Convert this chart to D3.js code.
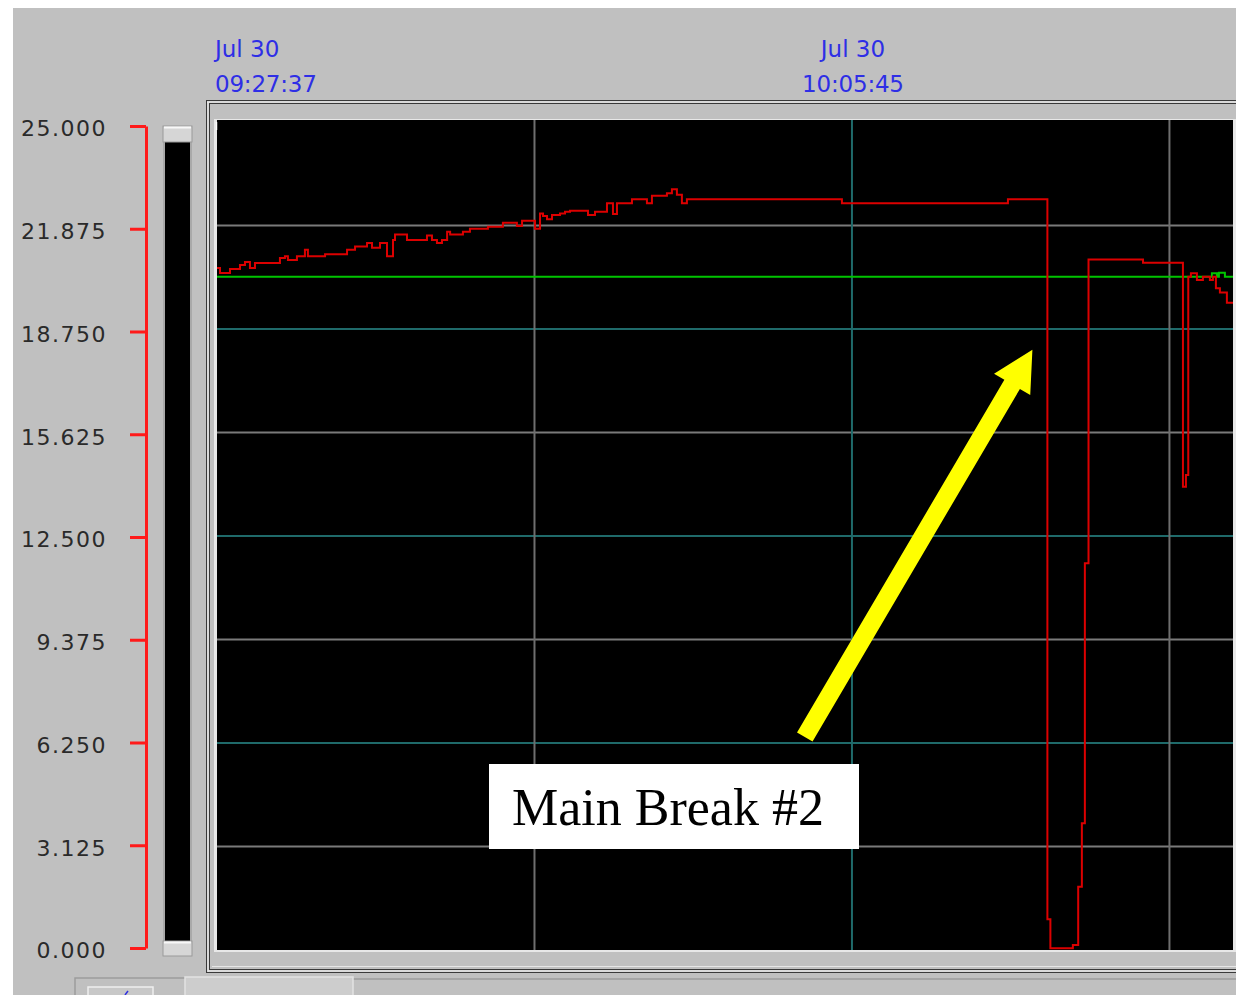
<!DOCTYPE html>
<html><head><meta charset="utf-8">
<script src="https://cdn.jsdelivr.net/npm/d3@7"></script>
<style>html,body{margin:0;padding:0;background:#fff;overflow:hidden}</style>
</head><body>
<svg id="c" width="1236" height="995"></svg>
<script>
// ---------------- data ----------------
const startTime = "09:27:37";
const endTime = "10:28:38";
const yTicks = [0, 3.125, 6.25, 9.375, 12.5, 15.625, 18.75, 21.875, 25];
const dateLabels = ["Jul 30", "Jul 30"];
const timeLabels = ["09:27:37", "10:05:45"];
const minorGridTimes = ["09:46:41", "10:24:49"];
const majorGridTimes = ["10:05:45"];
const minorGridValues = [3.125, 9.375, 15.625, 21.875];
const majorGridValues = [6.25, 12.5, 18.75];

// red trace: minutes after 09:27:37, value (step-after)
const redMinutes = [0, 0.18, 0.78, 1.38, 1.68, 1.98, 2.28, 3.78, 4.08, 4.26, 4.80, 5.28, 5.46, 6.49,
  7.81, 8.29, 9.01, 9.31, 9.79, 10.21, 10.57, 10.69, 11.41, 12.61, 12.91, 13.21, 13.51, 13.82,
  14.00, 14.77, 15.19, 16.27, 17.17, 18.01, 18.32, 19.10, 19.40, 19.58, 19.82, 20.12, 20.60,
  20.90, 21.20, 22.28, 22.70, 23.42, 23.78, 24.02, 24.92, 25.82, 26.12, 27.02, 27.32, 27.62,
  27.92, 28.22, 37.53, 47.50, 49.87, 50.05, 51.40, 51.72, 51.94, 52.12, 52.34, 55.61, 58.01,
  58.19, 58.33, 58.49, 58.85, 59.21, 59.63, 59.81, 59.99, 60.23, 60.65, 61.02];
const redValues = [20.59, 20.44, 20.56, 20.68, 20.77, 20.59, 20.74, 20.89, 20.95, 20.83, 20.95, 21.14, 20.95, 21.01,
  21.14, 21.24, 21.35, 21.20, 21.35, 20.95, 21.44, 21.60, 21.44, 21.57, 21.44, 21.35, 21.44, 21.69,
  21.60, 21.69, 21.78, 21.84, 21.96, 21.86, 22.02, 21.78, 22.24, 22.16, 22.06, 22.19, 22.24,
  22.29, 22.32, 22.19, 22.29, 22.55, 22.22, 22.55, 22.67, 22.55, 22.77, 22.85, 22.97, 22.80,
  22.55, 22.67, 22.55, 22.67, 0.93, 0.05, 0.15, 1.91, 3.83, 11.68, 20.85, 20.75, 13.99,
  14.34, 20.33, 20.43, 20.23, 20.33, 20.23, 20.33, 19.98, 19.85, 19.54, 19.54];

// green trace
const greenMinutes = [0, 59.75, 60.05, 60.17, 60.53, 61.02];
const greenValues = [20.33, 20.43, 20.33, 20.45, 20.33, 20.33];

const annotationText = "Main Break #2";
// arrow: tail / tip in (minutes, value)
const arrowTail = [35.3, 6.43];
const arrowTip = [48.97, 18.12];

// ---------------- drawing ----------------
const svg = d3.select("#c");
const parse = d3.timeParse("%H:%M:%S");
const t0 = parse(startTime), t1 = parse(endTime);
const tAt = m => new Date(t0.getTime() + m * 60000);

const plot = {l: 217, r: 1233, t: 122, b: 950};
const x = d3.scaleTime().domain([t0, t1]).range([plot.l, plot.r]);
const y = d3.scaleLinear().domain([0, 25]).range([plot.b, plot.t]);
const yAx = d3.scaleLinear().domain([0, 25]).range([948, 126]);

// background
svg.append("rect").attr("x", 0).attr("y", 0).attr("width", 1236).attr("height", 995).attr("fill", "#ffffff");
svg.append("rect").attr("x", 13).attr("y", 8).attr("width", 1223).attr("height", 987).attr("fill", "#c0c0c0");

// frame
function hline(x1, x2, yy, c, w) { svg.append("line").attr("x1", x1).attr("x2", x2).attr("y1", yy).attr("y2", yy).attr("stroke", c).attr("stroke-width", w || 1); }
function vline(xx, y1, y2, c, w) { svg.append("line").attr("x1", xx).attr("x2", xx).attr("y1", y1).attr("y2", y2).attr("stroke", c).attr("stroke-width", w || 1); }
hline(206, 1236, 100.5, "#3a3a3a"); hline(207, 1236, 102, "#f4f4f4"); hline(209, 1236, 103.5, "#3a3a3a");
vline(206.5, 100, 973, "#3a3a3a"); vline(208, 102, 972, "#f4f4f4"); vline(209.5, 103, 970, "#3a3a3a");
hline(206, 1236, 972.5, "#3a3a3a"); hline(208, 1236, 971, "#f4f4f4"); hline(209, 1236, 969.5, "#3a3a3a");
hline(212, 1236, 966.5, "#e6e6e6");

// plot bg
svg.append("rect").attr("x", plot.l - 3).attr("y", plot.t - 3).attr("width", plot.r - plot.l + 6).attr("height", plot.b - plot.t + 5).attr("fill", "#e8e8e8");
svg.append("rect").attr("x", plot.l).attr("y", plot.t - 2).attr("width", plot.r - plot.l).attr("height", plot.b - plot.t + 2).attr("fill", "#000");

// grid
minorGridValues.forEach(v => hline(plot.l, plot.r, y(v), "#7a7a7a", 2));
majorGridValues.forEach(v => hline(plot.l, plot.r, y(v), "#1f6a6a", 2));
minorGridTimes.forEach(s => vline(x(parse(s)), plot.t - 2, plot.b, "#6e6e6e", 2));
majorGridTimes.forEach(s => vline(x(parse(s)), plot.t - 2, plot.b, "#1f6a6a", 2));
vline(plot.l - 0.5, plot.t, plot.t + 8, "#ffffff", 1.5);

// clip
svg.append("clipPath").attr("id", "pc").append("rect")
  .attr("x", plot.l).attr("y", plot.t - 2).attr("width", plot.r - plot.l).attr("height", plot.b - plot.t + 2);

const line = d3.line().curve(d3.curveStepAfter).x(d => x(tAt(d[0]))).y(d => y(d[1]));
const greenData = greenMinutes.map((m, i) => [m, greenValues[i]]);
const redData = redMinutes.map((m, i) => [m, redValues[i]]);
svg.append("path").attr("clip-path", "url(#pc)").attr("d", line(greenData))
  .attr("fill", "none").attr("stroke", "#00c400").attr("stroke-width", 2);
svg.append("path").attr("clip-path", "url(#pc)").attr("d", line(redData))
  .attr("fill", "none").attr("stroke", "#dc0000").attr("stroke-width", 2);

// y axis
const axis = d3.axisLeft(yAx).tickValues(yTicks).tickFormat(d3.format(".3f")).tickSize(16).tickSizeOuter(0).tickPadding(23);
const ag = svg.append("g").attr("transform", "translate(146,0)").call(axis);
ag.select(".domain").attr("stroke", "#ff1a1a").attr("stroke-width", 3);
ag.selectAll(".tick line").attr("stroke", "#ff1a1a").attr("stroke-width", 3);
ag.selectAll(".tick text").attr("fill", "#2a2a2a").attr("dy", "0.45em")
  .style("font-family", "DejaVu Sans").style("font-size", "22px").style("letter-spacing", "1.5px");

// scrollbar
svg.append("rect").attr("x", 163).attr("y", 126).attr("width", 29).attr("height", 830).attr("fill", "#a9a9a9");
svg.append("rect").attr("x", 165).attr("y", 141).attr("width", 25).attr("height", 800).attr("fill", "#000");
[[126, 16], [941, 15]].forEach(([ty, th]) => {
  svg.append("rect").attr("x", 163).attr("y", ty).attr("width", 29).attr("height", th).attr("fill", "#d6d6d6").attr("stroke", "#9a9a9a");
  hline(164, 191, ty + 1.5, "#f8f8f8", 2);
});

// time labels
timeLabels.forEach((s, i) => {
  const px = x(parse(s));
  const anchor = i === 0 ? "start" : "middle";
  const tx = i === 0 ? px - 2 : px + 1;
  const tg = svg.append("g").attr("fill", "#2e2ee6").style("font-family", "DejaVu Sans").style("font-size", "23px").attr("text-anchor", anchor);
  tg.append("text").attr("x", tx).attr("y", 57).style("letter-spacing", "0px").text(dateLabels[i]);
  tg.append("text").attr("x", tx).attr("y", 92).style("letter-spacing", "-0.2px").text(s);
});

// bottom tabs
hline(353, 1236, 979, "#9c9c9c", 1.5);
svg.append("path").attr("d", "M75,995 V978 H185").attr("fill", "none").attr("stroke", "#9c9c9c").attr("stroke-width", 1.5);
svg.append("rect").attr("x", 185).attr("y", 977).attr("width", 168).attr("height", 20).attr("fill", "#cdcdcd").attr("stroke", "#e2e2e2").attr("stroke-width", 1.5);
svg.append("rect").attr("x", 88).attr("y", 987).attr("width", 65).attr("height", 10).attr("fill", "#c8c8c8").attr("stroke", "#eeeeee").attr("stroke-width", 1.5);
svg.append("line").attr("x1", 125).attr("y1", 995).attr("x2", 128).attr("y2", 991).attr("stroke", "#3030e0").attr("stroke-width", 1.5);

// annotation arrow
const p0 = [x(tAt(arrowTail[0])), y(arrowTail[1])];
const p1 = [x(tAt(arrowTip[0])), y(arrowTip[1])];
const dx = p1[0] - p0[0], dy = p1[1] - p0[1], L = Math.hypot(dx, dy);
const ux = dx / L, uy = dy / L, nx = -uy, ny = ux;
const hl = 40, hw = 21, sw = 9;
const bx = p1[0] - ux * hl, by = p1[1] - uy * hl;
const pts = [
  [p0[0] + nx * sw, p0[1] + ny * sw], [bx + nx * sw, by + ny * sw], [bx + nx * hw, by + ny * hw],
  p1, [bx - nx * hw, by - ny * hw], [bx - nx * sw, by - ny * sw], [p0[0] - nx * sw, p0[1] - ny * sw]];
svg.append("polygon").attr("points", pts.map(p => p.join(",")).join(" ")).attr("fill", "#ffff00");

// annotation box
svg.append("rect").attr("x", 489).attr("y", 764).attr("width", 370).attr("height", 85).attr("fill", "#ffffff");
svg.append("text").attr("x", 512).attr("y", 825).attr("fill", "#000").style("font-family", "Liberation Serif").style("font-size", "52px").text(annotationText);
</script>
</body></html>
